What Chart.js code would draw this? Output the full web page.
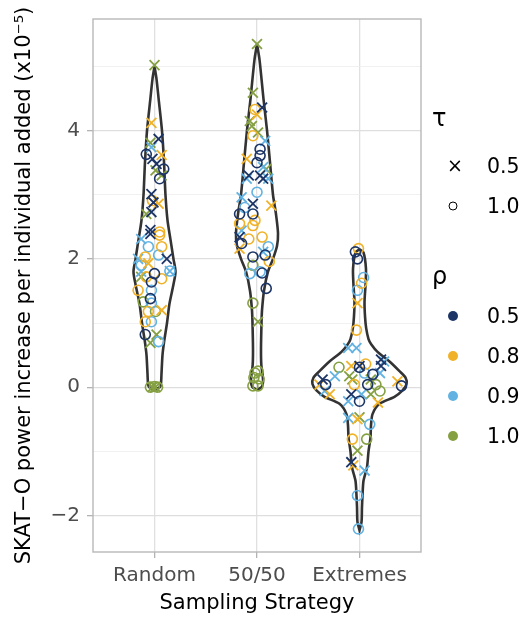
<!DOCTYPE html>
<html>
<head>
<meta charset="utf-8">
<script src="https://cdn.jsdelivr.net/npm/chart.js@4/dist/chart.umd.min.js"></script>
<style>
  body { margin: 0; background: #fff; font-family: 'DejaVu Sans', sans-serif; }
  #wrap { position: relative; width: 524px; height: 620px; }
  .lg { position: absolute; transform: translateY(-50%); color: #000; font-size: 20.5px; line-height: 1; white-space: nowrap; }
  .dot { position: absolute; width: 10px; height: 10px; border-radius: 50%; transform: translate(-50%, -50%); }
  .ring { position: absolute; width: 7px; height: 7px; border-radius: 50%; border: 1.4px solid #000; transform: translate(-50%, -50%); }
</style>
</head>
<body>
<div id="wrap">
  <canvas id="chart" width="524" height="620"></canvas>
  <div class="lg" style="left:432px;top:118px;font-size:24px">τ</div>
  <div class="lg" style="left:447px;top:165px;font-size:19px">×</div>
  <div class="lg" style="left:487px;top:166px">0.5</div>
  <div class="ring" style="left:453px;top:206px"></div>
  <div class="lg" style="left:487px;top:206px">1.0</div>
  <div class="lg" style="left:432px;top:276px;font-size:24px">ρ</div>
  <div class="dot" style="left:453px;top:316px;background:#1d3566"></div>
  <div class="lg" style="left:487px;top:316px">0.5</div>
  <div class="dot" style="left:453px;top:356px;background:#f0b228"></div>
  <div class="lg" style="left:487px;top:356px">0.8</div>
  <div class="dot" style="left:453px;top:396px;background:#62b2e2"></div>
  <div class="lg" style="left:487px;top:396px">0.9</div>
  <div class="dot" style="left:453px;top:436px;background:#85a042"></div>
  <div class="lg" style="left:487px;top:436px">1.0</div>
</div>
<script>
const strategies = ['Random', '50/50', 'Extremes'];
const rhoLevels = [0.5, 0.8, 0.9, 1.0];
const tauLevels = [0.5, 1.0];
const yTicks = [-2, -1, 0, 1, 2, 3, 4, 5];

// violin outlines, top to bottom: [value, half width]
const violinRandom = [
  [5.0, 0], [4.8, 0.02], [4.5, 0.04], [4.0, 0.073], [3.5, 0.093], [3.0, 0.107],
  [2.6, 0.127], [2.3, 0.156], [2.0, 0.185], [1.8, 0.205], [1.6, 0.185], [1.3, 0.146],
  [1.0, 0.122], [0.7, 0.093], [0.5, 0.078], [0.2, 0.068], [0.05, 0.063], [0, 0.05], [-0.04, 0]
];
const violin5050 = [
  [5.35, 0], [5.1, 0.025], [4.5, 0.063], [4.0, 0.098], [3.5, 0.127], [3.0, 0.156],
  [2.7, 0.185], [2.4, 0.205], [2.2, 0.195], [2.0, 0.156], [1.8, 0.107], [1.5, 0.068],
  [1.2, 0.049], [1.0, 0.044], [0.6, 0.039], [0.35, 0.042], [0.2, 0.054], [0.08, 0.059],
  [0, 0.045], [-0.04, 0]
];
const violinExtremes = [
  [2.15, 0], [2.1, 0.039], [1.85, 0.063], [1.6, 0.059], [1.33, 0.049], [1.1, 0.054],
  [0.92, 0.065], [0.75, 0.088], [0.67, 0.114], [0.55, 0.176], [0.4, 0.293], [0.25, 0.39],
  [0.15, 0.449], [0.05, 0.459], [-0.05, 0.42], [-0.15, 0.341], [-0.26, 0.195], [-0.42, 0.127],
  [-0.6, 0.112], [-0.79, 0.107], [-1.0, 0.088], [-1.25, 0.073], [-1.46, 0.039], [-1.7, 0.029],
  [-1.88, 0.024], [-2.1, 0.02], [-2.23, 0]
];

// jittered points: [rho, tau, jitter, value]
const ptsRandom = [
  [1.0,0.5,0.00,5.02],[0.8,0.5,-0.03,4.12],[0.5,0.5,0.04,3.87],[1.0,0.5,-0.04,3.81],
  [0.9,0.5,-0.03,3.74],[0.5,1.0,-0.08,3.63],[0.8,0.5,0.07,3.62],[0.5,0.5,-0.02,3.56],
  [0.5,0.5,0.02,3.48],[0.5,1.0,0.09,3.40],[1.0,0.5,0.01,3.38],[1.0,0.5,0.07,3.30],
  [0.5,1.0,0.05,3.25],[0.5,0.5,-0.03,3.01],[0.8,1.0,-0.02,2.91],[0.5,0.5,-0.01,2.88],
  [0.8,0.5,0.04,2.86],[0.5,0.5,-0.03,2.73],[1.0,0.5,-0.08,2.70],[0.5,0.5,-0.04,2.45],
  [0.8,1.0,0.05,2.42],[0.5,0.5,-0.04,2.39],[0.8,1.0,0.05,2.37],[0.9,0.5,-0.13,2.31],
  [0.8,1.0,0.07,2.19],[0.9,1.0,-0.06,2.19],[0.9,1.0,0.04,2.06],[0.9,0.5,-0.16,2.00],
  [0.8,1.0,-0.09,2.03],[0.5,0.5,0.12,2.00],[0.8,0.5,-0.06,1.93],[0.9,1.0,-0.13,1.90],
  [0.9,0.5,0.15,1.81],[0.9,1.0,0.15,1.81],[0.9,0.5,-0.13,1.80],[0.5,1.0,0.00,1.77],
  [0.8,1.0,-0.08,1.72],[1.0,0.5,-0.13,1.72],[0.8,1.0,0.07,1.69],[0.5,1.0,-0.03,1.64],
  [0.8,1.0,-0.16,1.51],[0.9,1.0,-0.03,1.51],[0.5,1.0,-0.04,1.38],[1.0,1.0,-0.11,1.33],
  [0.9,1.0,-0.03,1.31],[0.8,1.0,-0.06,1.18],[0.8,0.5,0.07,1.20],[1.0,1.0,0.01,1.18],
  [0.8,1.0,-0.09,1.02],[0.9,1.0,-0.03,1.02],[0.5,1.0,-0.09,0.82],[1.0,0.5,0.02,0.82],
  [1.0,0.5,-0.04,0.69],[0.9,1.0,0.04,0.71],[1.0,1.0,-0.04,0.00],[1.0,1.0,0.03,0.00],
  [1.0,0.5,-0.02,0.00],[1.0,0.5,0.01,0.00],[1.0,1.0,0.00,0.01]
];
const pts5050 = [
  [1.0,0.5,0.00,5.35],[1.0,0.5,-0.04,4.59],[0.5,0.5,0.05,4.36],[0.8,1.0,-0.02,4.33],
  [0.8,0.5,0.00,4.25],[1.0,0.5,-0.07,4.15],[1.0,0.5,-0.05,4.07],[1.0,0.5,0.01,3.97],
  [0.8,1.0,-0.04,3.92],[0.9,0.5,0.08,3.84],[0.5,1.0,0.03,3.71],[0.5,1.0,0.03,3.61],
  [0.8,0.5,-0.10,3.56],[0.5,1.0,0.00,3.50],[0.9,0.5,0.06,3.43],[1.0,0.5,0.09,3.40],
  [0.5,0.5,-0.08,3.30],[0.5,0.5,0.03,3.30],[0.5,0.5,0.06,3.25],[0.9,0.5,-0.10,3.25],
  [0.9,0.5,0.11,3.25],[0.9,1.0,0.00,3.04],[0.9,0.5,-0.15,2.96],[0.5,0.5,-0.04,2.86],
  [0.8,0.5,0.14,2.83],[0.9,1.0,-0.12,2.80],[0.5,1.0,-0.17,2.70],[0.5,1.0,-0.04,2.70],
  [0.8,1.0,-0.02,2.60],[0.8,1.0,-0.17,2.55],[0.8,1.0,-0.04,2.52],[0.9,0.5,-0.15,2.44],
  [0.5,0.5,-0.17,2.34],[0.8,1.0,-0.08,2.31],[0.8,1.0,0.05,2.34],[0.5,1.0,-0.15,2.24],
  [0.8,0.5,-0.17,2.16],[0.9,1.0,0.11,2.19],[0.9,0.5,0.06,2.11],[0.5,1.0,-0.04,2.03],
  [0.5,1.0,0.08,2.06],[0.8,1.0,0.12,1.96],[1.0,1.0,-0.04,1.90],[0.9,1.0,-0.07,1.77],
  [0.9,1.0,0.03,1.80],[0.5,1.0,0.05,1.78],[0.5,1.0,0.09,1.54],[1.0,1.0,-0.04,1.31],
  [1.0,0.5,0.01,1.02],[1.0,1.0,-0.02,0.22],[1.0,1.0,0.01,0.25],[1.0,1.0,-0.03,0.15],
  [1.0,1.0,0.02,0.13],[1.0,1.0,-0.04,0.02],[1.0,1.0,0.01,0.02]
];
const ptsExtremes = [
  [0.8,1.0,-0.01,2.16],[0.5,1.0,-0.04,2.11],[0.5,1.0,-0.02,2.00],[0.9,1.0,0.04,1.71],
  [0.8,1.0,0.02,1.62],[0.9,1.0,-0.02,1.51],[0.8,0.5,-0.02,1.31],[0.8,1.0,-0.03,0.89],
  [0.9,0.5,-0.11,0.61],[0.9,0.5,-0.03,0.61],[0.5,0.5,0.21,0.43],[0.9,0.5,0.24,0.40],
  [1.0,1.0,-0.20,0.31],[0.8,0.5,-0.08,0.33],[0.5,0.5,0.00,0.33],[0.5,1.0,0.00,0.31],
  [0.8,1.0,0.06,0.36],[0.5,0.5,0.21,0.33],[0.9,0.5,-0.24,0.17],[1.0,0.5,-0.10,0.17],
  [0.9,1.0,0.05,0.22],[0.5,1.0,0.13,0.20],[0.9,0.5,0.20,0.22],[0.5,0.5,-0.36,0.12],
  [0.8,0.5,-0.39,0.04],[0.5,1.0,-0.33,0.04],[1.0,0.5,-0.07,0.12],[0.8,1.0,-0.05,0.04],
  [0.5,1.0,0.08,0.04],[1.0,1.0,0.16,0.04],[1.0,0.5,0.11,0.12],[0.8,0.5,0.37,0.09],
  [0.5,1.0,0.41,0.02],[0.9,0.5,-0.34,-0.06],[0.8,0.5,-0.29,-0.11],[1.0,1.0,0.20,-0.06],
  [0.5,0.5,-0.08,-0.11],[0.9,0.5,0.02,-0.11],[0.5,1.0,0.00,-0.22],[1.0,0.5,0.11,-0.11],
  [0.9,0.5,-0.11,-0.22],[0.8,0.5,0.18,-0.24],[0.9,0.5,-0.11,-0.48],[0.8,0.5,-0.02,-0.50],
  [1.0,0.5,0.00,-0.47],[0.9,1.0,0.10,-0.58],[0.8,1.0,-0.07,-0.81],[1.0,1.0,0.07,-0.81],
  [1.0,0.5,-0.02,-0.99],[0.5,0.5,-0.08,-1.17],[0.8,0.5,-0.06,-1.22],[0.9,0.5,0.05,-1.30],
  [0.9,1.0,-0.02,-1.69],[0.9,1.0,-0.01,-2.21]
];

const rhoColors = ['#1d3566', '#f0b228', '#62b2e2', '#85a042'];
const violins = [violinRandom, violin5050, violinExtremes];
const points = [ptsRandom, pts5050, ptsExtremes];

const datasets = [];

// point layers, one per rho x tau
rhoLevels.forEach((rho, ri) => {
  tauLevels.forEach(tau => {
    const data = [];
    points.forEach((rows, si) => {
      rows.forEach(r => {
        if (r[0] === rho && r[1] === tau) data.push({ x: si + 1 + r[2], y: r[3] });
      });
    });
    datasets.push({
      data: data,
      order: 0,
      pointStyle: tau === 0.5 ? 'crossRot' : 'circle',
      pointRadius: tau === 0.5 ? 7 : 5,
      pointBorderWidth: tau === 0.5 ? 1.8 : 1.6,
      pointBorderColor: rhoColors[ri],
      pointBackgroundColor: 'rgba(0,0,0,0)',
      showLine: false
    });
  });
});

// violin outlines
violins.forEach((prof, si) => {
  const c = si + 1;
  const right = prof.map(p => ({ x: c + p[1], y: p[0] }));
  const left = prof.slice().reverse().map(p => ({ x: c - p[1], y: p[0] }));
  datasets.push({
    data: right.concat(left),
    order: 5,
    showLine: true,
    borderColor: '#333333',
    borderWidth: 2.6,
    tension: 0.25,
    pointRadius: 0,
    fill: false
  });
});

const panelBorder = {
  id: 'panelBorder',
  beforeDatasetsDraw(chart) {
    const a = chart.chartArea, ctx = chart.ctx;
    ctx.save();
    ctx.strokeStyle = '#b8b8b8';
    ctx.lineWidth = 1.4;
    ctx.strokeRect(a.left, a.top, a.right - a.left, a.bottom - a.top);
    ctx.restore();
  }
};

const fontFam = "'DejaVu Sans', sans-serif";

new Chart(document.getElementById('chart').getContext('2d'), {
  type: 'scatter',
  data: { datasets: datasets },
  plugins: [panelBorder],
  options: {
    responsive: false,
    animation: false,
    devicePixelRatio: 1,
    layout: { padding: { top: 16, right: 103, left: 0, bottom: 0 } },
    plugins: { legend: { display: false }, tooltip: { enabled: false } },
    scales: {
      x: {
        type: 'linear',
        min: 0.4,
        max: 3.6,
        afterBuildTicks: s => { s.ticks = strategies.map((_, i) => ({ value: i + 1 })); },
        afterFit: s => { s.height = 68; },
        border: { display: false },
        grid: { color: '#e0e0e0', lineWidth: 1.3, tickLength: 6, tickColor: '#b3b3b3' },
        ticks: {
          padding: 6,
          color: '#4d4d4d',
          font: { family: fontFam, size: 20 },
          maxRotation: 0,
          callback: v => strategies[Math.round(v) - 1]
        },
        title: {
          display: true,
          text: 'Sampling Strategy',
          color: '#000',
          font: { family: fontFam, size: 21 },
          padding: { top: 0, bottom: 4 }
        }
      },
      y: {
        min: -2.57,
        max: 5.74,
        afterBuildTicks: s => { s.ticks = yTicks.map(v => ({ value: v })); },
        afterFit: s => { s.width = 93; },
        border: { display: false },
        grid: {
          color: c => (c.tick && c.tick.value % 2 === 0) ? '#dedede' : '#eeeeee',
          lineWidth: c => (c.tick && c.tick.value % 2 === 0) ? 1.3 : 0.8,
          tickLength: 6,
          tickColor: c => (c.tick && c.tick.value % 2 === 0) ? '#b3b3b3' : 'rgba(0,0,0,0)'
        },
        ticks: {
          padding: 7,
          color: '#4d4d4d',
          font: { family: fontFam, size: 20 },
          callback: v => (v % 2 === 0 ? (v < 0 ? '\u2212' + Math.abs(v) : String(v)) : '')
        },
        title: {
          display: true,
          text: 'SKAT\u2212O power increase per individual added (x10\u207B\u2075)',
          color: '#000',
          font: { family: fontFam, size: 21 },
          padding: { top: 12, bottom: 0 }
        }
      }
    }
  }
});
</script>
</body>
</html>
